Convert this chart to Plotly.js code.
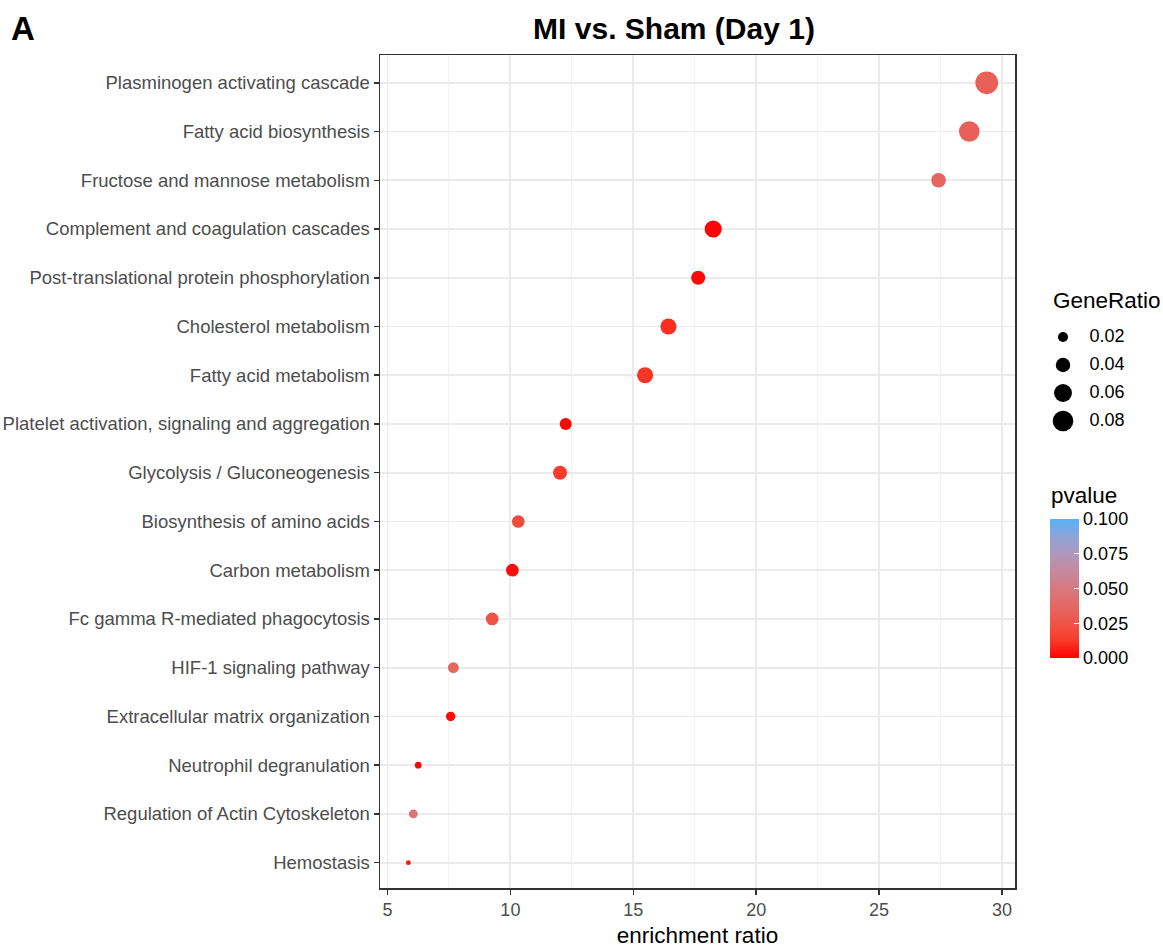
<!DOCTYPE html>
<html>
<head>
<meta charset="utf-8">
<script src="https://cdn.plot.ly/plotly-3.0.1.min.js"></script>
<style>html,body{margin:0;padding:0;background:#fff;}#chart{width:1163px;height:948px;}</style>
</head>
<body>
<div id="chart"></div>
<script>
const categories = ["Hemostasis","Regulation of Actin Cytoskeleton","Neutrophil degranulation","Extracellular matrix organization","HIF-1 signaling pathway","Fc gamma R-mediated phagocytosis","Carbon metabolism","Biosynthesis of amino acids","Glycolysis / Gluconeogenesis","Platelet activation, signaling and aggregation","Fatty acid metabolism","Cholesterol metabolism","Post-translational protein phosphorylation","Complement and coagulation cascades","Fructose and mannose metabolism","Fatty acid biosynthesis","Plasminogen activating cascade"];
const enrichmentRatio = [5.85,6.05,6.25,7.57,7.68,9.26,10.08,10.32,12.02,12.25,15.48,16.43,17.64,18.25,27.42,28.67,29.38];
const geneRatio = [0.006,0.016,0.010,0.018,0.023,0.031,0.031,0.031,0.038,0.028,0.049,0.049,0.038,0.056,0.041,0.080,0.096];
const pvalue = [0.004,0.048,0.002,0.003,0.036,0.024,0.003,0.020,0.013,0.001,0.011,0.010,0.002,0.001,0.036,0.032,0.032];
const xTicks = [5,10,15,20,25,30];
const sizeLegendValues = [0.02,0.04,0.06,0.08];
const sizeLegendLabels = ["0.02","0.04","0.06","0.08"];
const pvalueTicks = [0,0.025,0.05,0.075,0.1];
const pvalueTickLabels = ["0.000","0.025","0.050","0.075","0.100"];

const FONT = "Liberation Sans, Arial, Helvetica, sans-serif";
const sizeOf = v => Math.sqrt(Math.max(5467 * v - 9.3, 4));
const cscale = [[0,'#FF0000'],[0.125,'#F73B2A'],[0.25,'#EF5548'],[0.375,'#E46864'],[0.5,'#D7797F'],[0.625,'#C6899D'],[0.75,'#AF97BB'],[0.875,'#8EA4D8'],[1,'#56B1F7']];

const L = 380, R = 5, T = 55, B = 60, W = 1163, H = 948;
const pw = W - L - R, ph = H - T - B;
const px2x = p => (p - L) / pw;
const py2y = p => 1 - (p - T) / ph;

const main = {
  type: 'scatter', mode: 'markers',
  x: enrichmentRatio, y: categories,
  marker: {
    size: geneRatio.map(sizeOf), sizemode: 'diameter',
    color: pvalue, cmin: 0, cmax: 0.1, colorscale: cscale, opacity: 1,
    line: {width: 0},
    colorbar: {
      x: px2x(1050), xanchor: 'left', xpad: 0,
      y: py2y(588.5), yanchor: 'middle', ypad: 0,
      len: 139, lenmode: 'pixels', thickness: 29, thicknessmode: 'pixels',
      outlinewidth: 0,
      tickvals: pvalueTicks, ticktext: pvalueTickLabels,
      ticks: 'inside', ticklen: 5, tickcolor: '#ffffff', tickwidth: 1,
      tickfont: {family: FONT, size: 18, color: '#000'},
      title: {text: ''}
    }
  },
  xaxis: 'x', yaxis: 'y', showlegend: false, hoverinfo: 'x+y'
};

const legMarkers = {
  type: 'scatter', mode: 'markers',
  x: sizeLegendValues.map(() => 0.195), y: sizeLegendValues,
  marker: {size: sizeLegendValues.map(sizeOf), sizemode: 'diameter', color: 'rgb(0,0,0)', opacity: 1, line: {width: 0}},
  xaxis: 'x2', yaxis: 'y2', showlegend: false, hoverinfo: 'skip'
};
const legText = {
  type: 'scatter', mode: 'text',
  x: sizeLegendValues.map(() => 0.42), y: sizeLegendValues,
  text: sizeLegendLabels, textposition: 'middle right',
  textfont: {family: FONT, size: 18, color: '#000'},
  xaxis: 'x2', yaxis: 'y2', showlegend: false, hoverinfo: 'skip'
};

const layout = {
  width: W, height: H,
  margin: {l: L, r: R, t: T, b: B, pad: 0},
  paper_bgcolor: '#fff', plot_bgcolor: '#fff',
  font: {family: FONT, color: '#000'},
  title: {
    text: '<b>MI vs. Sham (Day 1)</b>',
    font: {family: FONT, size: 30, color: '#000'},
    x: px2x(674), xref: 'paper', xanchor: 'center',
    y: 1 - 28 / H, yref: 'container', yanchor: 'middle'
  },
  xaxis: {
    domain: [0, px2x(1015)],
    range: [4.695, 30.53],
    tickvals: xTicks, ticktext: xTicks.map(String),
    ticks: 'outside', ticklen: 5, tickwidth: 1.5, tickcolor: '#333333',
    tickfont: {family: FONT, size: 18, color: '#4D4D4D'},
    showgrid: true, gridcolor: '#EBEBEB', gridwidth: 1.8,
    minor: {dtick: 2.5, tick0: 2.5, showgrid: true, gridcolor: '#F2F2F2', gridwidth: 1, ticks: ''},
    showline: true, mirror: true, linecolor: '#333333', linewidth: 1.5,
    zeroline: false,
    title: {text: 'enrichment ratio', font: {family: FONT, size: 22.5, color: '#000'}, standoff: 9},
    automargin: false
  },
  yaxis: {
    type: 'category', categoryorder: 'array', categoryarray: categories,
    range: [-0.52, categories.length - 1 + 0.57],
    ticks: 'outside', ticklen: 5, tickwidth: 1.5, tickcolor: '#333333',
    tickfont: {family: FONT, size: 18.5, color: '#4D4D4D'},
    showgrid: true, gridcolor: '#EBEBEB', gridwidth: 1.8,
    showline: true, mirror: true, linecolor: '#333333', linewidth: 1.5,
    zeroline: false, automargin: false
  },
  xaxis2: {domain: [px2x(1040), 1], range: [0, 1], visible: false, fixedrange: true, anchor: 'y2'},
  yaxis2: {domain: [py2y(435), py2y(323)], range: [0.09, 0.01], visible: false, fixedrange: true, anchor: 'x2'},
  annotations: [
    {text: '<b>A</b>', xref: 'paper', yref: 'paper', x: px2x(9), y: py2y(29), xanchor: 'left', yanchor: 'middle',
     showarrow: false, font: {family: FONT, size: 33, color: '#000'}},
    {text: 'GeneRatio', xref: 'paper', yref: 'paper', x: px2x(1051), y: py2y(300), xanchor: 'left', yanchor: 'middle',
     showarrow: false, font: {family: FONT, size: 22.5, color: '#000'}},
    {text: 'pvalue', xref: 'paper', yref: 'paper', x: px2x(1049), y: py2y(495), xanchor: 'left', yanchor: 'middle',
     showarrow: false, font: {family: FONT, size: 22.5, color: '#000'}}
  ],
  showlegend: false
};

Plotly.newPlot('chart', [main, legMarkers, legText], layout, {displayModeBar: false, staticPlot: true});
</script>
</body>
</html>
